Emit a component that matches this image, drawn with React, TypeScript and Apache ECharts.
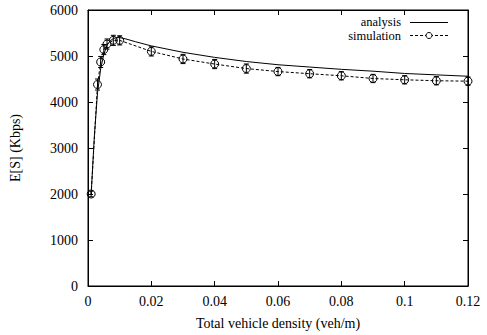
import React, { useEffect, useRef } from "react";
import * as echarts from "echarts";

const analysisX = [0.001, 0.002, 0.003, 0.004, 0.005, 0.006, 0.007, 0.008, 0.009, 0.01, 0.012, 0.015, 0.02, 0.03, 0.04, 0.05, 0.06, 0.07, 0.08, 0.09, 0.1, 0.11, 0.12];
const analysisY = [2000, 3250, 4200, 4720, 5040, 5230, 5330, 5380, 5400, 5400, 5370, 5310, 5220, 5080, 4970, 4880, 4810, 4760, 4710, 4670, 4620, 4590, 4560];

const simX = [0.001, 0.003, 0.004, 0.005, 0.006, 0.008, 0.01, 0.02, 0.03, 0.04, 0.05, 0.06, 0.07, 0.08, 0.09, 0.1, 0.11, 0.12];
const simY = [2000, 4380, 4870, 5140, 5260, 5340, 5340, 5100, 4935, 4825, 4727, 4662, 4615, 4570, 4511, 4483, 4462, 4453];
const simErr = [60, 120, 120, 110, 110, 110, 100, 100, 100, 100, 100, 90, 90, 90, 90, 90, 90, 90];

const xTicks = [0, 0.02, 0.04, 0.06, 0.08, 0.1, 0.12];
const yTicks = [0, 1000, 2000, 3000, 4000, 5000, 6000];

const FONT = "Liberation Serif";
const FS = 14;

export default function App() {
  const ref = useRef<HTMLDivElement>(null);
  useEffect(() => {
    const chart = echarts.init(ref.current!, null, { renderer: "svg" });
    const gridL = 86, gridR = 19, gridT = 10, gridB = 47;
    const axisCommon = {
      axisLine: { show: true, onZero: false, lineStyle: { color: "#000", width: 1 } },
      axisTick: { show: true, inside: true, length: 5, lineStyle: { color: "#000" } },
      splitLine: { show: false },
    };
    chart.setOption({
      animation: false,
      backgroundColor: "#fff",
      textStyle: { fontFamily: FONT },
      grid: { left: gridL, right: gridR, top: gridT, bottom: gridB, show: true, borderColor: "#000", borderWidth: 1, backgroundColor: "transparent" },
      xAxis: [
        {
          type: "value", min: xTicks[0], max: xTicks[xTicks.length - 1], interval: 0.02,
          position: "bottom",
          ...axisCommon,
          axisLabel: { color: "#000", fontFamily: FONT, fontSize: FS, margin: 8,
            formatter: (v: number) => String(parseFloat(v.toFixed(4))) },
          name: "Total vehicle density (veh/m)", nameLocation: "middle", nameGap: 30,
          nameTextStyle: { color: "#000", fontFamily: FONT, fontSize: FS },
        },
        {
          type: "value", min: xTicks[0], max: xTicks[xTicks.length - 1], interval: 0.02,
          position: "top", ...axisCommon, axisLabel: { show: false },
        },
      ],
      yAxis: [
        {
          type: "value", min: yTicks[0], max: yTicks[yTicks.length - 1], interval: 1000,
          position: "left", ...axisCommon,
          axisLabel: { color: "#000", fontFamily: FONT, fontSize: FS, margin: 10,
            formatter: (v: number) => String(v) },
          name: "E[S] (Kbps)", nameLocation: "middle", nameGap: 66, nameRotate: 90,
          nameTextStyle: { color: "#000", fontFamily: FONT, fontSize: FS },
        },
        {
          type: "value", min: yTicks[0], max: yTicks[yTicks.length - 1], interval: 1000,
          position: "right", ...axisCommon, axisLabel: { show: false },
        },
      ],
      series: [
        {
          name: "analysis", type: "line",
          data: analysisX.map((x, i) => [x, analysisY[i]]),
          showSymbol: false, symbol: "none", smooth: false,
          lineStyle: { color: "#000", width: 1 },
        },
        {
          name: "simulation", type: "line",
          data: simX.map((x, i) => [x, simY[i]]),
          symbol: "circle", symbolSize: 8,
          itemStyle: { color: "transparent", borderColor: "#000", borderWidth: 1 },
          lineStyle: { color: "#000", width: 1, type: [3, 2] },
          z: 3,
        },
        {
          name: "err", type: "custom",
          data: simX.map((x, i) => [x, simY[i], simErr[i]]),
          renderItem: (params: any, api: any) => {
            const x = api.value(0), y = api.value(1), e = api.value(2);
            const top = api.coord([x, y + e]);
            const bot = api.coord([x, y - e]);
            const c = 2.5;
            const st = { stroke: "#000", lineWidth: 1 };
            return {
              type: "group",
              children: [
                { type: "line", shape: { x1: top[0], y1: top[1], x2: bot[0], y2: bot[1] }, style: st },
                { type: "line", shape: { x1: top[0] - c, y1: top[1], x2: top[0] + c, y2: top[1] }, style: st },
                { type: "line", shape: { x1: bot[0] - c, y1: bot[1], x2: bot[0] + c, y2: bot[1] }, style: st },
              ],
            };
          },
          z: 4,
        },
      ],
      graphic: [
        { type: "text", x: 401, y: 21.5, style: { text: "analysis", font: "12.5px " + FONT, fill: "#000", align: "right", verticalAlign: "middle" } },
        { type: "line", shape: { x1: 410, y1: 22.5, x2: 448, y2: 22.5 }, style: { stroke: "#000", lineWidth: 1 } },
        { type: "text", x: 401, y: 35.5, style: { text: "simulation", font: "12.5px " + FONT, fill: "#000", align: "right", verticalAlign: "middle" } },
        { type: "line", shape: { x1: 410, y1: 35.5, x2: 448, y2: 35.5 }, style: { stroke: "#000", lineWidth: 1, lineDash: [3, 2] } },
        { type: "circle", shape: { cx: 429, cy: 35.5, r: 3 }, style: { fill: "#fff", stroke: "#000", lineWidth: 1 } },
      ],
    });
    return () => chart.dispose();
  }, []);
  return <div ref={ref} style={{ width: 487, height: 335, position: "absolute", left: 0, top: 0 }} />;
}
